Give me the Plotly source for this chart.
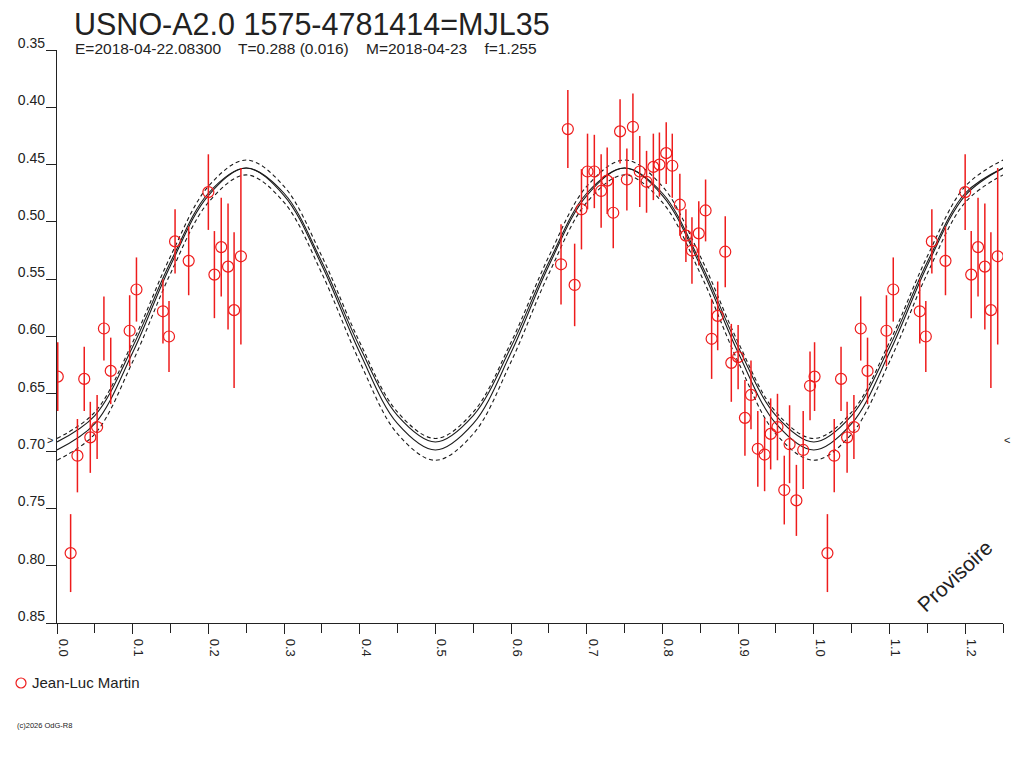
import plotly.graph_objects as go

# Light curve of USNO-A2.0 1575-4781414 (phase diagram)

phase = [0.001, 0.018, 0.027, 0.036, 0.044, 0.053, 0.062, 0.071, 0.096, 0.105,
         0.140, 0.148, 0.156, 0.174, 0.200, 0.208, 0.217, 0.226, 0.234, 0.243,
         0.666, 0.675, 0.684, 0.693, 0.701, 0.710, 0.719, 0.727, 0.735, 0.744,
         0.753, 0.761, 0.770, 0.779, 0.788, 0.796, 0.805, 0.813, 0.823, 0.831,
         0.839, 0.848, 0.857, 0.865, 0.873, 0.883, 0.891, 0.900, 0.909, 0.917,
         0.926, 0.935, 0.943, 0.952, 0.961, 0.968, 0.977, 0.986, 0.995]
mag = [0.635, 0.789, 0.704, 0.637, 0.688, 0.679, 0.593, 0.630, 0.595, 0.559,
       0.578, 0.600, 0.517, 0.534, 0.474, 0.546, 0.522, 0.539, 0.577, 0.530,
       0.537, 0.419, 0.555, 0.489, 0.456, 0.456, 0.473, 0.464, 0.492, 0.421,
       0.463, 0.417, 0.456, 0.465, 0.452, 0.450, 0.440, 0.451, 0.485, 0.512,
       0.525, 0.510, 0.490, 0.602, 0.582, 0.526, 0.623, 0.618, 0.671, 0.651,
       0.698, 0.703, 0.685, 0.679, 0.734, 0.694, 0.743, 0.699, 0.643]
err = [0.030, 0.034, 0.032, 0.028, 0.031, 0.028, 0.028, 0.029, 0.031, 0.028,
       0.028, 0.031, 0.028, 0.030, 0.033, 0.038, 0.043, 0.055, 0.068, 0.077,
       0.035, 0.034, 0.036, 0.035, 0.033, 0.032, 0.032, 0.029, 0.031, 0.028,
       0.027, 0.029, 0.031, 0.027, 0.029, 0.028, 0.027, 0.028, 0.027, 0.023,
       0.029, 0.028, 0.027, 0.035, 0.030, 0.031, 0.034, 0.028, 0.033, 0.030,
       0.033, 0.032, 0.031, 0.029, 0.030, 0.034, 0.031, 0.034, 0.030]

# fitted curve and its envelopes, sampled every 0.05 in phase
curve_phase = [0.00, 0.05, 0.10, 0.15, 0.20, 0.25, 0.30, 0.35, 0.40, 0.45,
               0.50, 0.55, 0.60, 0.65, 0.70, 0.75, 0.80, 0.85, 0.90, 0.95,
               1.00, 1.05, 1.10, 1.15, 1.20, 1.25]
fit_main = [0.699, 0.676, 0.614, 0.538, 0.477, 0.453, 0.477, 0.538, 0.614, 0.676,
            0.699, 0.676, 0.614, 0.538, 0.477, 0.453, 0.477, 0.538, 0.614, 0.676,
            0.699, 0.676, 0.614, 0.538, 0.477, 0.453]
fit_alt = [0.692, 0.669, 0.609, 0.535, 0.475, 0.453, 0.475, 0.535, 0.609, 0.669,
           0.692, 0.669, 0.609, 0.535, 0.475, 0.453, 0.475, 0.535, 0.609, 0.669,
           0.692, 0.669, 0.609, 0.535, 0.475, 0.453]
fit_upper = [0.689, 0.666, 0.605, 0.530, 0.469, 0.446, 0.469, 0.530, 0.605, 0.666,
             0.689, 0.666, 0.605, 0.530, 0.469, 0.446, 0.469, 0.530, 0.605, 0.666,
             0.689, 0.666, 0.605, 0.530, 0.469, 0.446]
fit_lower = [0.708, 0.685, 0.622, 0.545, 0.483, 0.459, 0.483, 0.545, 0.622, 0.685,
             0.708, 0.685, 0.622, 0.545, 0.483, 0.459, 0.483, 0.545, 0.622, 0.685,
             0.708, 0.685, 0.622, 0.545, 0.483, 0.459]

x_ticks = [0.0, 0.1, 0.2, 0.3, 0.4, 0.5, 0.6, 0.7, 0.8, 0.9, 1.0, 1.1, 1.2]
y_ticks = [0.35, 0.40, 0.45, 0.50, 0.55, 0.60, 0.65, 0.70, 0.75, 0.80, 0.85]

title = "USNO-A2.0 1575-4781414=MJL35"
subtitle = "E=2018-04-22.08300    T=0.288 (0.016)    M=2018-04-23    f=1.255"
observer = "Jean-Luc Martin"

FONT = "Liberation Sans, Arial, sans-serif"
RED = "#ee1c1c"

# repeat the first quarter of the cycle after phase 1
x_all = phase + [p + 1 for p in phase if p < 0.25]
y_all = mag + [m for p, m in zip(phase, mag) if p < 0.25]
e_all = err + [e for p, e in zip(phase, err) if p < 0.25]

fig = go.Figure()

for ys, dash in [(fit_upper, "4px,3px"), (fit_lower, "4px,3px"),
                 (fit_alt, "solid"), (fit_main, "solid")]:
    fig.add_trace(go.Scatter(
        x=curve_phase, y=ys, mode="lines",
        line=dict(color="#1a1a1a", width=1.1, dash=dash, shape="spline", smoothing=1),
        hoverinfo="skip", showlegend=False
    ))

fig.add_trace(go.Scatter(
    x=x_all, y=y_all, mode="markers", name=observer,
    marker=dict(symbol="circle-open", size=11, color=RED, line=dict(width=1.2, color=RED)),
    error_y=dict(type="data", array=e_all, color=RED, thickness=1.5, width=0),
    showlegend=False
))


# page pixel -> paper coordinates (the page body adds an 8 px offset)
def px(xp):
    return (xp - 57) / 946


def py(yp):
    return (623 - yp) / 573


annotations = [
    dict(x=px(73), y=py(24), text=title, font=dict(size=30.5, color="#222")),
    dict(x=px(74), y=py(48), text=subtitle, font=dict(size=15.5, color="#222")),
    dict(x=px(31), y=py(683), text=observer, font=dict(size=15, color="#222")),
    dict(x=px(16), y=py(725), text="(c)2026 OdG-R8", font=dict(size=7.5, color="#222")),
    dict(x=px(1003), y=py(440), text="&lt;", font=dict(size=11, color="#222")),
    dict(x=px(46), y=py(440), text="&gt;", font=dict(size=11, color="#222")),
]
for a in annotations:
    a.update(xref="paper", yref="paper", xanchor="left", yanchor="middle",
             showarrow=False, borderpad=0)
annotations.append(dict(
    x=px(954), y=py(576), xref="paper", yref="paper", text="Provisoire",
    xanchor="center", yanchor="middle",
    textangle=-43, showarrow=False, font=dict(size=21, color="#222")
))

fig.update_layout(
    width=1024, height=768,
    margin=dict(l=49, r=29, t=42, b=153),
    paper_bgcolor="white", plot_bgcolor="white",
    font=dict(family=FONT, size=13, color="#222"),
    annotations=annotations,
    shapes=[dict(
        type="circle", xref="paper", yref="paper",
        xsizemode="pixel", ysizemode="pixel",
        xanchor=px(21), yanchor=py(683), x0=-5, x1=5, y0=-5, y1=5,
        line=dict(color=RED, width=1.2)
    )],
    xaxis=dict(
        range=[0, 1.25], showgrid=False, zeroline=False, automargin=False,
        showline=True, linecolor="#222", linewidth=1.2,
        ticks="outside", ticklen=10, tickcolor="#222",
        tickvals=x_ticks, ticktext=["%.1f" % t for t in x_ticks],
        tickangle=90, ticklabelshift=6, ticklabelstandoff=2,
        minor=dict(dtick=0.05, ticks="outside", ticklen=9, tickcolor="#222", showgrid=False),
    ),
    yaxis=dict(
        range=[0.85, 0.35], showgrid=False, zeroline=False, automargin=False,
        showline=True, linecolor="#222", linewidth=1.2,
        ticks="outside", ticklen=10, tickcolor="#222",
        tickvals=y_ticks, ticktext=["%.2f" % t for t in y_ticks],
        tickfont=dict(size=14),
        ticklabelshift=7, ticklabelstandoff=-2,
    ),
)

fig.write_html("out.html")
